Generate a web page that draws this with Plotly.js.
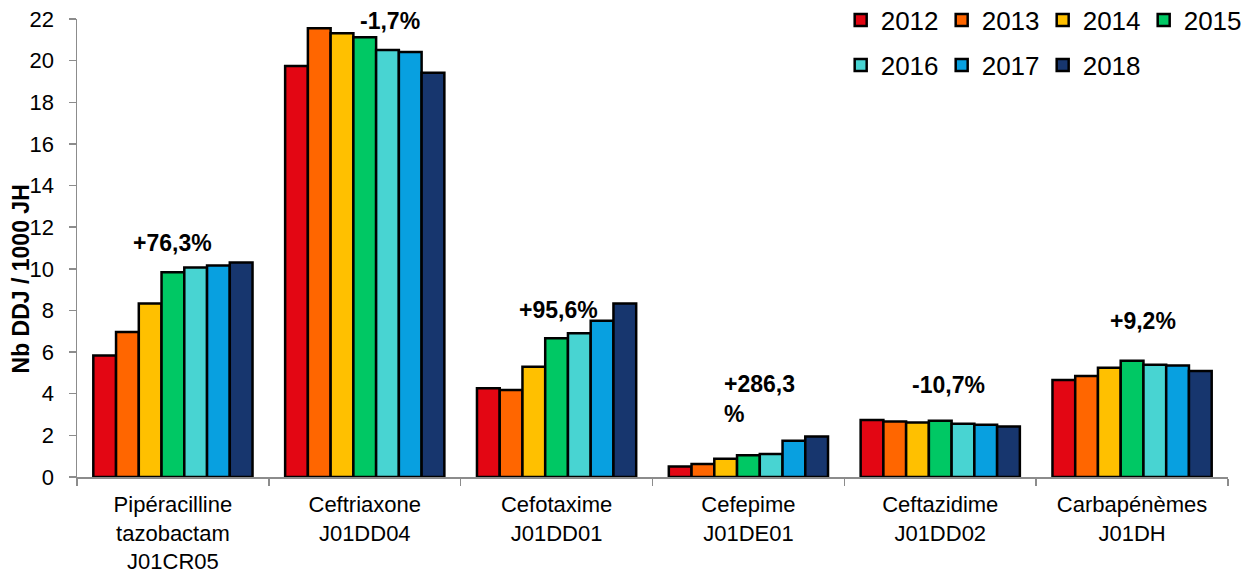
<!DOCTYPE html>
<html>
<head>
<meta charset="utf-8">
<script src="https://cdn.plot.ly/plotly-3.0.1.min.js"></script>
<style>html,body{margin:0;padding:0;background:#fff;}#chart{width:1254px;height:573px;}</style>
</head>
<body>
<div id="chart"></div>
<script>
const categories = [
  "Pipéracilline<br>tazobactam<br>J01CR05",
  "Ceftriaxone<br>J01DD04",
  "Cefotaxime<br>J01DD01",
  "Cefepime<br>J01DE01",
  "Ceftazidime<br>J01DD02",
  "Carbapénèmes<br>J01DH"
];
const years = ["2012","2013","2014","2015","2016","2017","2018"];
const v2012 = [5.84, 19.74, 4.26, 0.50, 2.74, 4.66];
const v2013 = [6.96, 21.55, 4.18, 0.63, 2.67, 4.85];
const v2014 = [8.34, 21.31, 5.30, 0.88, 2.62, 5.25];
const v2015 = [9.84, 21.12, 6.66, 1.04, 2.70, 5.59];
const v2016 = [10.06, 20.51, 6.90, 1.10, 2.56, 5.39];
const v2017 = [10.16, 20.41, 7.51, 1.74, 2.51, 5.36];
const v2018 = [10.30, 19.42, 8.34, 1.94, 2.43, 5.09];
const changeLabels = ["+76,3%", "-1,7%", "+95,6%", "+286,3<br>%", "-10,7%", "+9,2%"];
const labelY = [11.25, 21.89, 8.04, 3.77, 4.44, 7.48];
const labelShift = [0, 25, 1.5, -26, 8, 11];
const labelAnchor = ["center","center","center","left","center","center"];
const colors = ["#E30613","#FF6600","#FFC000","#00C864","#48D4D2","#08A0E0","#17366E"];
const legendRow = ["legend","legend","legend","legend","legend2","legend2","legend2"];
const series = [v2012, v2013, v2014, v2015, v2016, v2017, v2018];

const FONT = "Liberation Sans, Arial, sans-serif";

const traces = series.map((vals, i) => ({
  type: "bar",
  name: years[i],
  legend: legendRow[i],
  x: categories,
  y: vals,
  marker: {color: colors[i], line: {color: "#000000", width: 2.5}},
  hoverinfo: "x+y+name"
}));

const annotations = categories.map((c, i) => ({
  xref: "x", yref: "y", x: c, y: labelY[i],
  text: "<b>" + changeLabels[i] + "</b>",
  showarrow: false, xanchor: labelAnchor[i], yanchor: "middle",
  align: "left", xshift: labelShift[i],
  font: {family: FONT, size: 23, color: "#000000"}
}));
annotations.push({
  xref: "paper", yref: "paper", x: -0.0487, y: 0.4334,
  text: "<b>Nb DDJ / 1000 JH</b>", textangle: -90,
  showarrow: false, xanchor: "center", yanchor: "middle",
  font: {family: FONT, size: 23, color: "#000000"}
});

const legendBase = {
  orientation: "h", xref: "container", yref: "container",
  x: 0.6704, xanchor: "left", yanchor: "middle",
  font: {family: FONT, size: 26, color: "#000000"},
  entrywidth: 56, entrywidthmode: "pixels", itemwidth: 30,
  bgcolor: "rgba(0,0,0,0)", traceorder: "normal"
};

const layout = {
  width: 1254, height: 573,
  margin: {l: 77, r: 26, t: 19, b: 96, pad: 0, autoexpand: false},
  paper_bgcolor: "#ffffff", plot_bgcolor: "#ffffff",
  font: {family: FONT, color: "#000000"},
  barmode: "group", bargap: 0.17, bargroupgap: 0,
  showlegend: true,
  legend: Object.assign({}, legendBase, {y: 0.9651}),
  legend2: Object.assign({}, legendBase, {y: 0.8866}),
  xaxis: {
    type: "category", showgrid: false, zeroline: false,
    showline: true, linecolor: "#8c8c8c", linewidth: 1.5,
    ticks: "outside", tickson: "boundaries", ticklen: 7, tickcolor: "#8c8c8c", tickwidth: 1.5,
    tickfont: {family: FONT, size: 22, color: "#000000"},
    ticklabelstandoff: 7
  },
  yaxis: {
    range: [0, 22], dtick: 2, tick0: 0, showgrid: false, zeroline: false,
    showline: true, linecolor: "#8c8c8c", linewidth: 1.5,
    ticks: "outside", ticklen: 7, tickcolor: "#8c8c8c", tickwidth: 1.5,
    tickfont: {family: FONT, size: 22, color: "#000000"},
    ticklabelstandoff: 10
  },
  annotations: annotations
};

Plotly.newPlot("chart", traces, layout, {displayModeBar: false, staticPlot: true});
</script>
</body>
</html>
